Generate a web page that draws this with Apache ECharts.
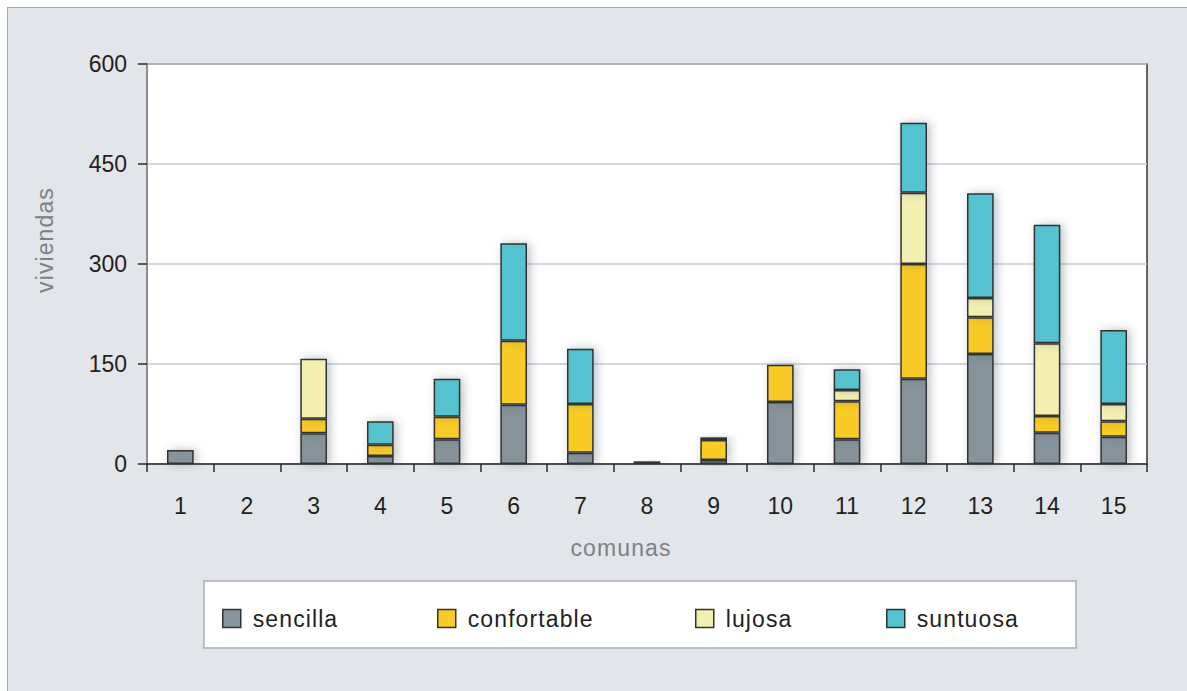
<!DOCTYPE html>
<html>
<head>
<meta charset="utf-8">
<script src="https://cdn.jsdelivr.net/npm/echarts@6/dist/echarts.min.js"></script>
<style>
  html, body { margin: 0; padding: 0; background: #ffffff; overflow: hidden; }
  #frame { position: absolute; left: 7px; top: 7px; width: 1200px; height: 700px;
           background: #e2e5e9; border-top: 1.5px solid #a4a8ac; border-left: 1.5px solid #a4a8ac; }
  #chart { position: absolute; left: 0; top: 0; width: 1187px; height: 691px; }
</style>
</head>
<body>
<div id="frame"></div>
<div id="chart"></div>
<script>
const categories = ['1','2','3','4','5','6','7','8','9','10','11','12','13','14','15'];
const sencilla    = [21, 0, 46, 12, 37,  89, 17, 0, 6, 93, 37, 128, 165,  47,  41];
const confortable = [ 0, 0, 22, 17, 34,  96, 73, 4, 30, 56, 57, 172,  55,  25,  23];
const lujosa      = [ 0, 0, 90,  0,  0,   0,  0, 0, 4,  0, 17, 107,  29, 109,  26];
const suntuosa    = [ 0, 0,  0, 35, 57, 146, 83, 0, 2,  0, 31, 105, 157, 178, 111];
const yTicks = [0, 150, 300, 450, 600];

const seriesNames = ['sencilla', 'confortable', 'lujosa', 'suntuosa'];
const seriesData = [sencilla, confortable, lujosa, suntuosa];
const colors = ['#87939a', '#f9cb28', '#f2efb0', '#54c2cf'];
const FONT = "'Liberation Sans', Arial, Helvetica, sans-serif";

const chart = echarts.init(document.getElementById('chart'), null, { renderer: 'svg' });

const legendLefts = [222, 437, 695, 886];

const option = {
  backgroundColor: 'transparent',
  animation: false,
  textStyle: { fontFamily: FONT },
  grid: {
    left: 147, right: 40, top: 64, bottom: 227,
    show: true, backgroundColor: '#ffffff', borderColor: '#333333', borderWidth: 1.5
  },
  xAxis: {
    type: 'category',
    data: categories,
    axisLine: { lineStyle: { color: '#2a2a2a', width: 1.5 } },
    axisTick: { show: true, length: 8, lineStyle: { color: '#2a2a2a', width: 1.5 } },
    axisLabel: { fontSize: 23, color: '#231f20', margin: 30, fontFamily: FONT },
    splitLine: { show: false }
  },
  yAxis: {
    type: 'value',
    min: yTicks[0], max: yTicks[yTicks.length - 1], interval: 150,
    axisLine: { show: true, lineStyle: { color: '#8a9096', width: 2 } },
    axisTick: { show: true, length: 9, lineStyle: { color: '#2a2a2a', width: 1.5 } },
    axisLabel: { fontSize: 23, color: '#231f20', margin: 20, fontFamily: FONT },
    splitLine: { show: true, lineStyle: { color: '#c9ccd1', width: 1.5 } }
  },
  legend: seriesNames.map((name, i) => ({
    data: [name],
    left: legendLefts[i],
    top: 607,
    padding: 0,
    itemWidth: 18,
    itemHeight: 18,
    icon: 'rect',
    z: 10,
    selectedMode: false,
    itemStyle: { borderColor: '#333333', borderWidth: 1.5 },
    textStyle: { fontSize: 23, color: '#231f20', fontFamily: FONT, padding: [0, 0, 3, 7] }
  })),
  graphic: [
    {
      type: 'rect', z: 1,
      shape: { x: 204, y: 581, width: 872, height: 67 },
      style: { fill: '#ffffff', stroke: '#a9adb1', lineWidth: 1.5 }
    },
    {
      type: 'text', z: 5,
      x: 45, y: 240, rotation: Math.PI / 2,
      style: { text: 'viviendas', fill: '#7d8187', font: "23px " + FONT, align: 'center', verticalAlign: 'middle' }
    },
    {
      type: 'text', z: 5,
      x: 621, y: 548,
      style: { text: 'comunas', fill: '#7d8187', font: "23px " + FONT, align: 'center', verticalAlign: 'middle' }
    }
  ],
  series: seriesNames.map((name, i) => ({
    name: name,
    type: 'bar',
    stack: 'total',
    barWidth: '40%',
    data: seriesData[i].map(v => (v === 0 ? '-' : v)),
    itemStyle: {
      color: colors[i],
      borderColor: '#333333',
      borderWidth: 1.5,
      shadowBlur: 10,
      shadowColor: 'rgba(60,70,90,0.35)',
      shadowOffsetX: 3,
      shadowOffsetY: 0
    }
  }))
};

chart.setOption(option);

// Letter spacing for the legend and axis-title texts (as in the reference typography)
const spaced = new Set(seriesNames.concat(['viviendas', 'comunas']));
function applySpacing() {
  document.querySelectorAll('#chart text').forEach(t => {
    if (spaced.has(t.textContent.trim())) t.setAttribute('letter-spacing', '1.1');
  });
}
chart.getZr().flush();
applySpacing();
chart.on('finished', applySpacing);
setTimeout(applySpacing, 0);
setTimeout(applySpacing, 100);
</script>
</body>
</html>
